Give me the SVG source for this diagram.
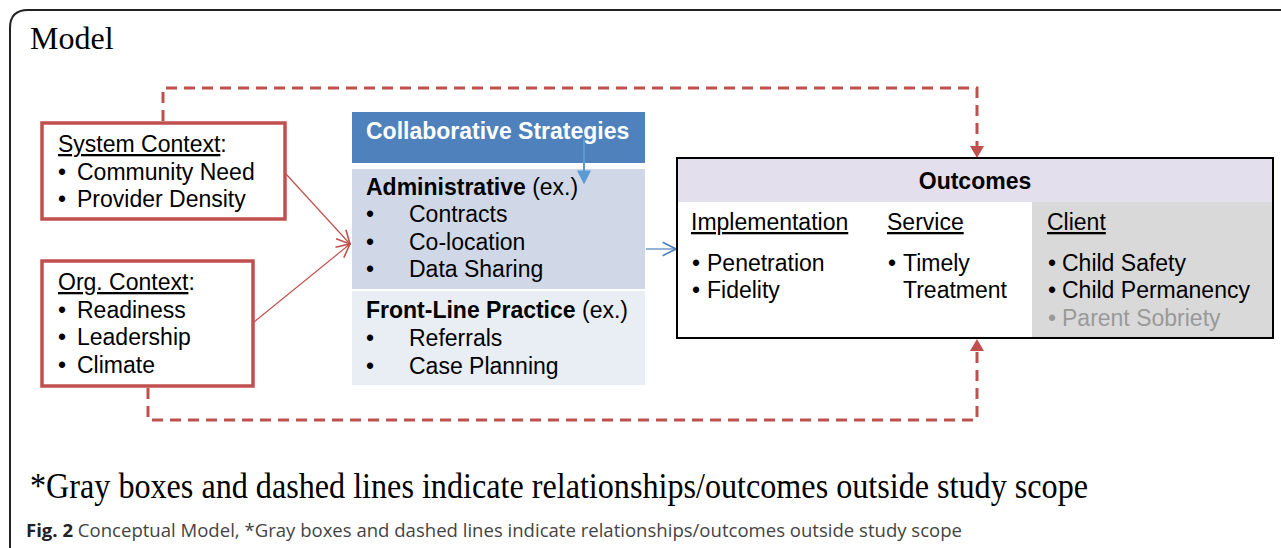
<svg xmlns="http://www.w3.org/2000/svg" width="1281" height="548" viewBox="0 0 1281 548">
<defs>
<style>
.s{font-family:"Liberation Sans",Arial,sans-serif;font-size:23px;fill:#000}
.b{font-weight:bold}
.serif{font-family:"Liberation Serif","Times New Roman",serif;fill:#000}
.ctx{fill:#fff;stroke:#c0504d;stroke-width:3.5}
.dash{fill:none;stroke:#c0504d;stroke-width:3;stroke-dasharray:11 7}
.thin{fill:none;stroke:#c0504d;stroke-width:1.2}
</style>
<marker id="openRed" viewBox="0 0 12 12" refX="11" refY="6" markerWidth="16" markerHeight="16" markerUnits="userSpaceOnUse" orient="auto">
<path d="M1,1 L11,6 L1,11" fill="none" stroke="#c0504d" stroke-width="1.2"/>
</marker>
<marker id="openBlue" viewBox="0 0 12 12" refX="11" refY="6" markerWidth="16" markerHeight="16" markerUnits="userSpaceOnUse" orient="auto">
<path d="M1,1 L11,6 L1,11" fill="none" stroke="#4f81bd" stroke-width="1.2"/>
</marker>
<marker id="fillBlue" viewBox="0 0 10 10" refX="9" refY="5" markerWidth="14" markerHeight="14" markerUnits="userSpaceOnUse" orient="auto">
<path d="M0,0 L10,5 L0,10 Z" fill="#5b9bd5"/>
</marker>
</defs>
<rect width="1281" height="548" fill="#fff"/>
<path d="M10,548 L10,28 Q10,10 28,10 L1281,10" fill="none" stroke="#222" stroke-width="2"/>
<text class="serif" x="30" y="49" font-size="32">Model</text>

<g id="connectors">
<path class="dash" d="M163,121 L163,88 L977,88 L977,148"/>
<path d="M970,146 L984,146 L977,158 Z" fill="#c0504d"/>
<path class="dash" d="M148,388 L148,420 L977,420 L977,350"/>
<path d="M970,351 L984,351 L977,339 Z" fill="#c0504d"/>
<line class="thin" x1="286" y1="174" x2="350" y2="244" marker-end="url(#openRed)"/>
<line class="thin" x1="254" y1="322" x2="350" y2="244" marker-end="url(#openRed)"/>
<line x1="646" y1="249" x2="676" y2="249" stroke="#4f81bd" stroke-width="1.2" marker-end="url(#openBlue)"/>
</g>

<g id="system-context">
<rect class="ctx" x="42" y="123" width="243" height="96"/>
<text class="s" x="58" y="152"><tspan text-decoration="underline">System Context</tspan>:</text>
<text class="s" x="58" y="180">•</text><text class="s" x="77" y="180">Community Need</text>
<text class="s" x="58" y="207">•</text><text class="s" x="77" y="207">Provider Density</text>
</g>

<g id="org-context">
<rect class="ctx" x="42" y="261" width="211" height="125"/>
<text class="s" x="58" y="290"><tspan text-decoration="underline">Org. Context</tspan>:</text>
<text class="s" x="58" y="318">•</text><text class="s" x="77" y="318">Readiness</text>
<text class="s" x="58" y="345">•</text><text class="s" x="77" y="345">Leadership</text>
<text class="s" x="58" y="373">•</text><text class="s" x="77" y="373">Climate</text>
</g>

<g id="collaborative-strategies">
<rect x="352" y="112" width="293" height="51" fill="#4f81bd"/>
<text class="s b" x="366" y="139" style="fill:#fff">Collaborative Strategies</text>
<rect x="352" y="169" width="293" height="120" fill="#d0d8e8"/>
<rect x="352" y="291" width="293" height="94" fill="#e9edf4"/>
<line x1="584" y1="138" x2="584" y2="183" stroke="#5b9bd5" stroke-width="2" marker-end="url(#fillBlue)"/>
<text class="s" x="366" y="195"><tspan class="b">Administrative</tspan> (ex.)</text>
<text class="s" x="366" y="222">•</text><text class="s" x="409" y="222">Contracts</text>
<text class="s" x="366" y="250">•</text><text class="s" x="409" y="250">Co-location</text>
<text class="s" x="366" y="277">•</text><text class="s" x="409" y="277">Data Sharing</text>
<text class="s" x="366" y="318"><tspan class="b">Front-Line Practice</tspan> (ex.)</text>
<text class="s" x="366" y="346">•</text><text class="s" x="409" y="346">Referrals</text>
<text class="s" x="366" y="374">•</text><text class="s" x="409" y="374">Case Planning</text>
</g>

<g id="outcomes">
<rect x="677" y="158" width="596" height="180" fill="#fff"/>
<rect x="678" y="159" width="594" height="43" fill="#e4dfec"/>
<rect x="1032" y="202" width="240" height="135" fill="#d9d9d9"/>
<rect x="677" y="158" width="596" height="180" fill="none" stroke="#000" stroke-width="2"/>
<text class="s b" x="975" y="189" text-anchor="middle">Outcomes</text>
<text class="s" x="691" y="230" text-decoration="underline">Implementation</text>
<text class="s" x="887" y="230" text-decoration="underline">Service</text>
<text class="s" x="1047" y="230" text-decoration="underline">Client</text>
<text class="s" x="692" y="271">•</text><text class="s" x="707" y="271">Penetration</text>
<text class="s" x="692" y="298">•</text><text class="s" x="707" y="298">Fidelity</text>
<text class="s" x="888" y="271">•</text><text class="s" x="903" y="271">Timely</text>
<text class="s" x="903" y="298">Treatment</text>
<text class="s" x="1048" y="271">•</text><text class="s" x="1062" y="271">Child Safety</text>
<text class="s" x="1048" y="298">•</text><text class="s" x="1062" y="298">Child Permanency</text>
<text class="s" x="1048" y="326" style="fill:#999">•</text><text class="s" x="1062" y="326" style="fill:#999">Parent Sobriety</text>
</g>

<text class="serif" x="30" y="498" font-size="35" textLength="1058" lengthAdjust="spacingAndGlyphs">*Gray boxes and dashed lines indicate relationships/outcomes outside study scope</text>
<text x="26" y="537" font-family="'Open Sans','Liberation Sans',sans-serif" font-size="18" fill="#444" textLength="936" lengthAdjust="spacingAndGlyphs"><tspan font-weight="bold" fill="#222">Fig. 2</tspan> Conceptual Model, *Gray boxes and dashed lines indicate relationships/outcomes outside study scope</text>
</svg>
